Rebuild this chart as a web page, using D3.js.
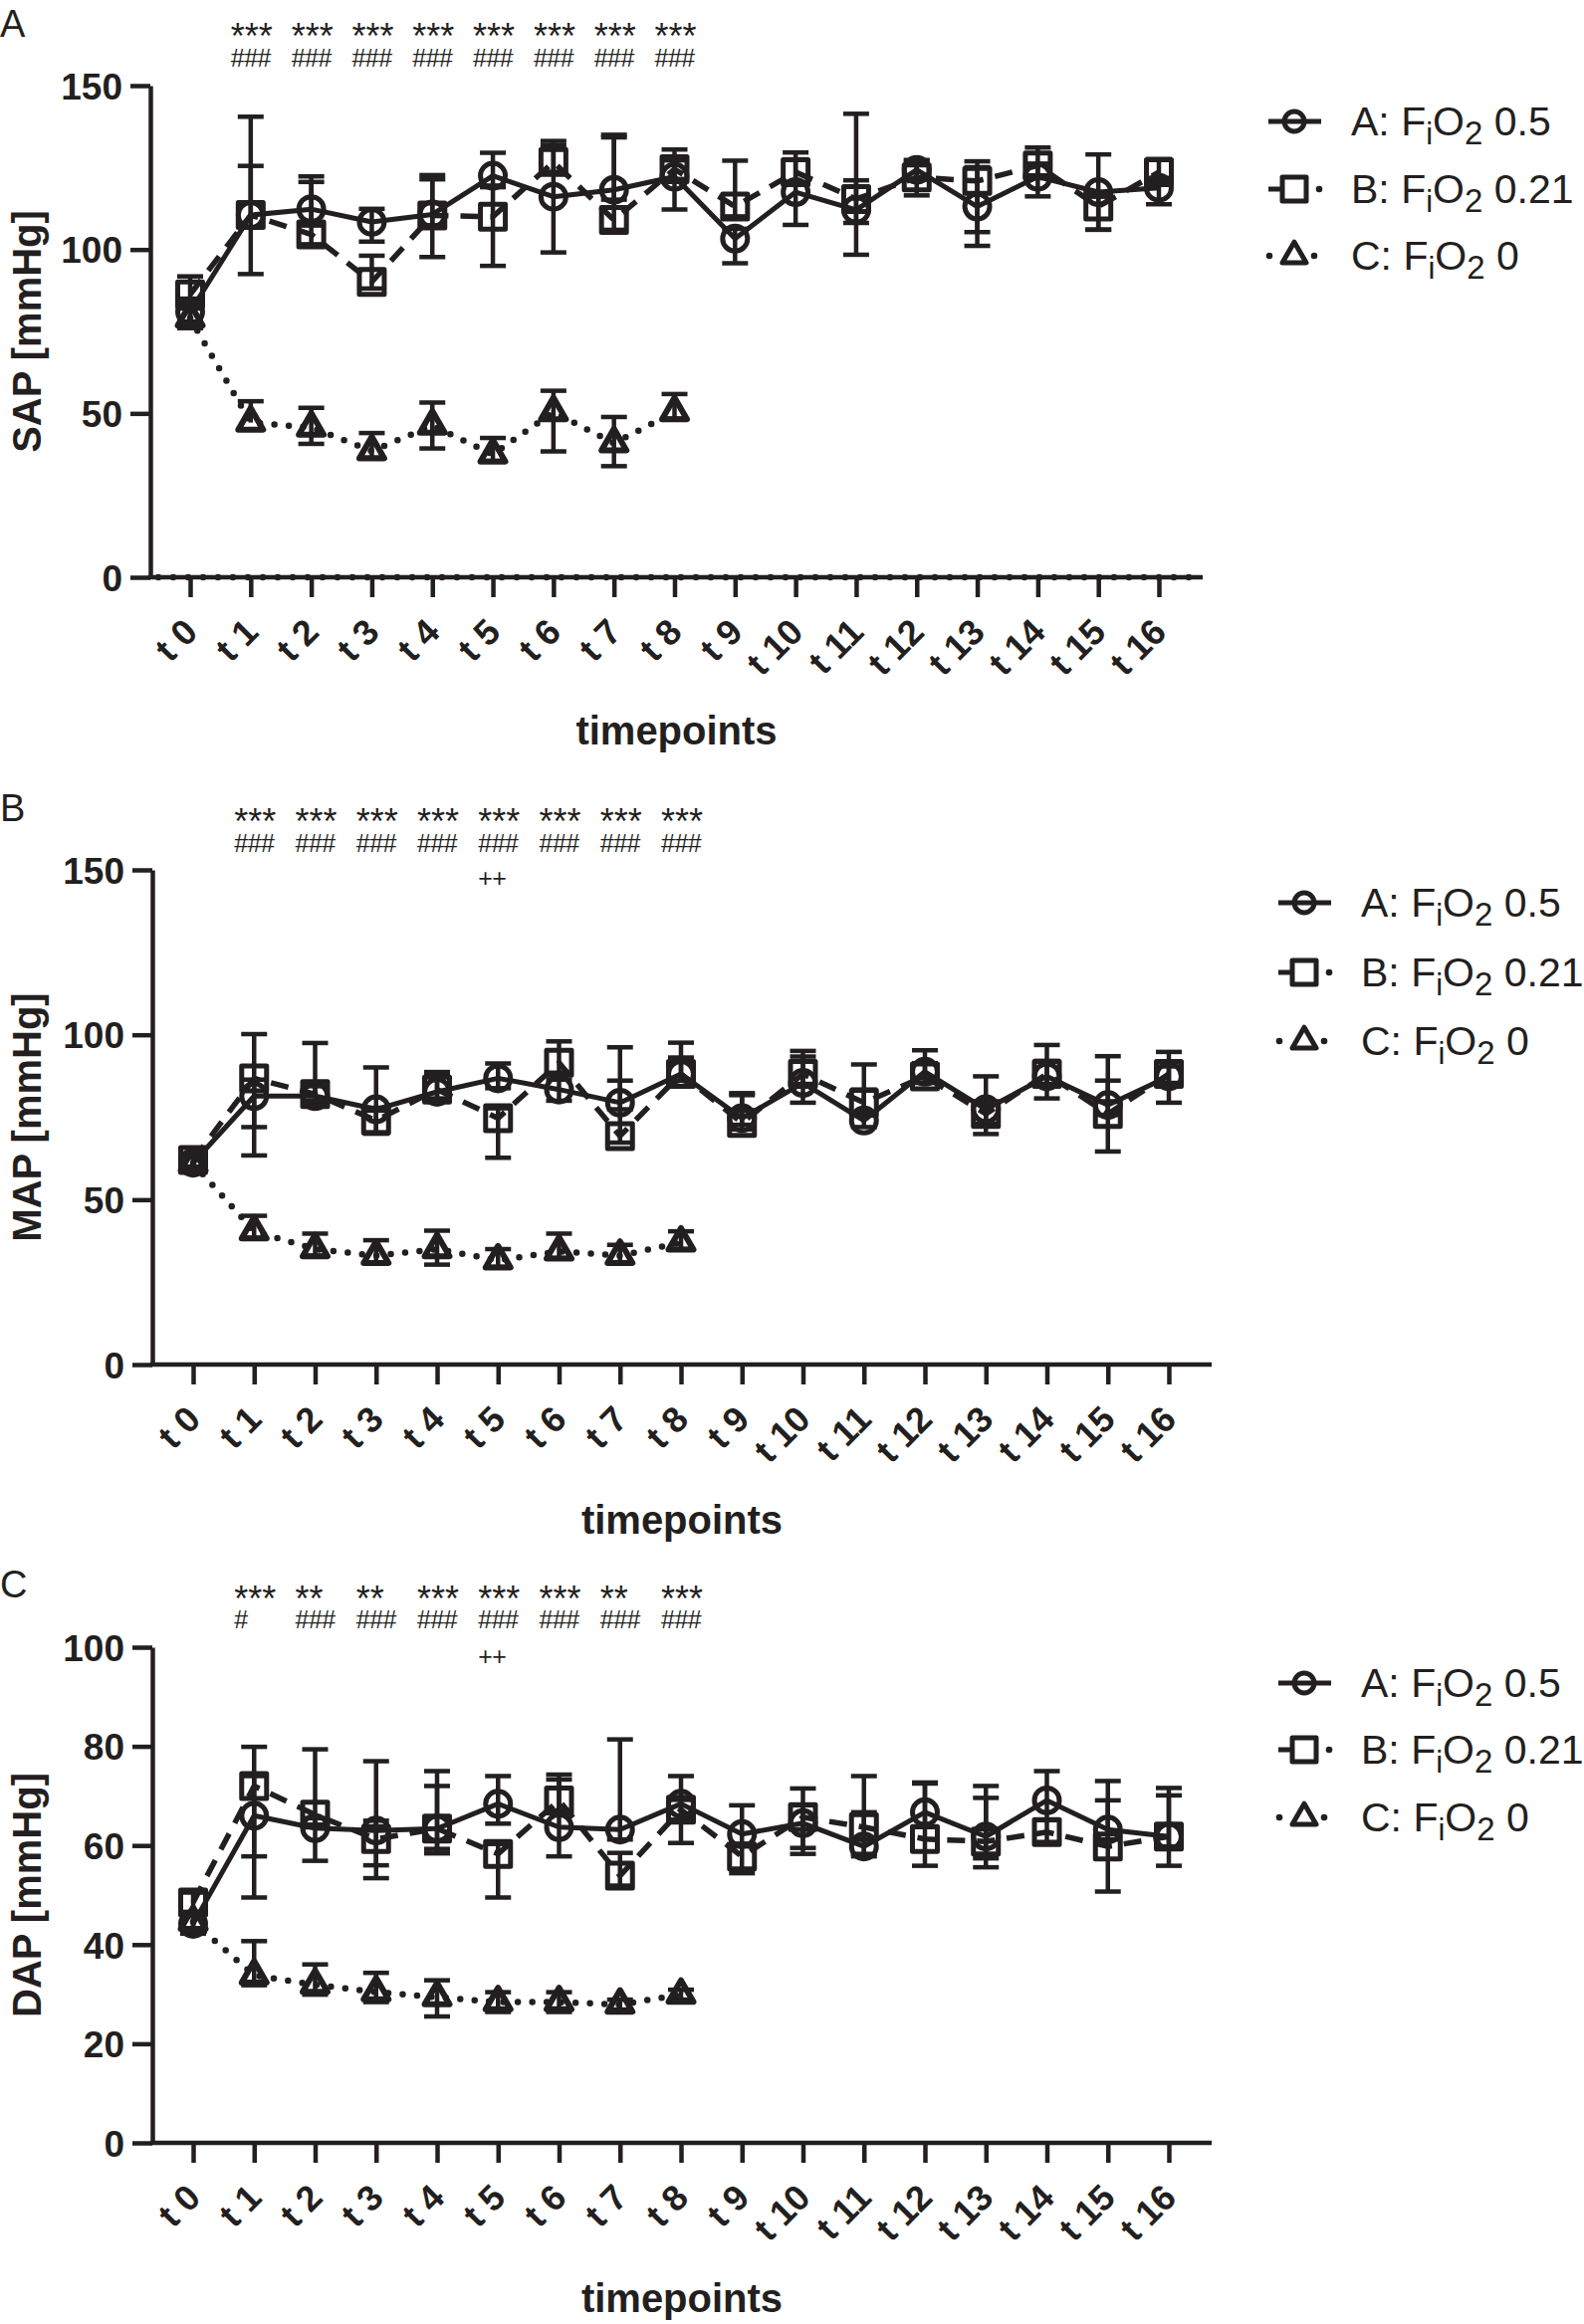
<!DOCTYPE html>
<html>
<head>
<meta charset="utf-8">
<script src="https://cdn.jsdelivr.net/npm/d3@7"></script>
<style>
  body { margin: 0; background: #fff; }
  svg { display: block; font-family: "Liberation Sans", Arial, sans-serif; }
</style>
</head>
<body>
<div id="chart"></div>
<script>
// timepoints on the x axis
const timepoints = d3.range(17).map(i => "t " + i);

// each entry: [mean, error below, error above]
const sapA = [[81,3,4],[110.5,18,30],[112.3,5,10],[108.4,6,4],[110.7,13,12],[122.5,3,7],[116.1,17,17],[118.2,3,16],[122.2,10,5],[103.3,7.5,3],[117.5,10,10],[112.1,4,9],[124.3,3,3],[113.1,12,12],[122.2,6,4],[117.5,11.5,11.5],[118.8,5,3]];
const sapB = [[86.3,3,5.5],[110.5,0,15],[104.6,3,16],[90.1,2,8],[110.4,3,11],[110,15,9],[126.7,3,5],[109,3,26],[124.5,3,6],[113.1,3,14],[123.6,3,6],[115.4,17,26],[122,5.5,5],[120.9,15.6,6],[125.6,3,5.5],[113.1,7,3],[123.6,3,4]];
const sapC = [[79,3,3],[47.2,0,6.5],[45.7,5,6],[38.5,2,5.5],[46.3,7,7],[37.5,2,5],[50.4,12,6.5],[40.9,7,8],[50.4,2,5.5]];

const mapA = [[61.2,2,2],[81.4,18,5],[81.4,2,3],[77.4,7,12.7],[82.7,2,6],[86.8,3,4.5],[83.4,3.4,3],[79.4,2,16.8],[88.1,2,9.5],[74.7,2,7],[85.4,6,8],[74,2,17],[88.8,2,6.5],[77.4,7.5,10],[87.4,6.7,9.5],[78.7,3,7.4],[87.4,2,3]];
const mapB = [[62,2,2],[86.8,14.8,13.4],[82,2,15.5],[74,4,3],[83.4,3,5],[74.7,12,3],[91.5,3,6.5],[69.3,2,16.8],[88.1,2,5],[73.3,2,9],[88.1,3,7],[79.4,3,4],[87.4,2,4],[76,3,3],[88.1,3,4],[76,11.4,17.5],[88.1,8.7,6.7]];
const mapC = [[61,2,2],[40.4,2,4.7],[35,2,4.7],[33,2,4.7],[35,4.7,5.6],[31.6,2,3.4],[34.3,2,5.4],[33,2,3.3],[37,2,3.4]];

const dapA = [[44.2,2,2],[66,8.2,13.9],[63.5,6.6,2],[63,7,2],[63.4,4.1,11.6],[68.4,4,5.6],[63.7,5.9,10.6],[63.2,2,18.2],[68.4,7.9,5.6],[62.3,2,5.8],[64.5,5,7],[59.8,2,6.9],[66.7,3,6],[61.8,4.4,10.2],[69.1,4,5.9],[63.2,2,9.8],[61.8,2,9.8]];
const dapB = [[48.5,2,2],[72,22.5,2],[66.2,2,13.2],[61.3,7.9,15.7],[63.4,5,8.6],[58.3,8.8,2],[69.1,2,4.2],[53.9,2,4.6],[67.2,2,2],[57.8,3.4,2],[65.7,7.4,2.4],[63.7,5.4,10.3],[61.3,5.4,11.2],[60.8,5.2,8.8],[62.7,2,2.5],[59.8,9.1,9.3],[61.8,5.9,8.3]];
const dapC = [[44.6,2,2],[33.8,2,6.9],[31.9,2,4.1],[30.4,2,3.9],[29.4,3.9,3.4],[28.4,2,2],[28.4,2,2],[27.9,1,1],[29.9,1,1]];

// significance marks, indexed by timepoint
const sapStars = ["","***","***","***","***","***","***","***","***"];
const sapHash  = ["","###","###","###","###","###","###","###","###"];
const mapStars = ["","***","***","***","***","***","***","***","***"];
const mapHash  = ["","###","###","###","###","###","###","###","###"];
const mapPlus  = ["","","","","","++","","",""];
const dapStars = ["","***","**","**","***","***","***","**","***"];
const dapHash  = ["","#","###","###","###","###","###","###","###"];
const dapPlus  = ["","","","","","++","","",""];

// legend
const groupNames = ["A", "B", "C"];
const fio2Values = ["0.5", "0.21", "0"];

const ink = "#231f20";
const font = "'Liberation Sans', Arial, sans-serif";

const styles = [
  {symbol: d3.symbolCircle, size: Math.PI * 12.5 * 12.5, dash: null, width: 5, cap: "butt"},
  {symbol: d3.symbolSquare, size: 25 * 25, dash: "18 12", width: 5.5, cap: "butt"},
  {symbol: d3.symbolTriangle, size: 25 * 25 * Math.sqrt(3) / 4, dash: "0 14.5", width: 6.5, cap: "round"}
];

const panels = [
  {id: "A", title: "SAP [mmHg]", series: [sapA, sapB, sapC], sig: [sapStars, sapHash],
   yMax: 150, yTicks: [0, 50, 100, 150], top: 86, bottom: 580, axisX: 151, x0: 191, x1: 1164, xEnd: 1208,
   labelY: 37, sigY: [49, 67], legX: 1300, legTextX: 1357, legY: [122, 190, 257], xTitleY: 748, zeroDots: true},
  {id: "B", title: "MAP [mmHg]", series: [mapA, mapB, mapC], sig: [mapStars, mapHash, mapPlus],
   yMax: 150, yTicks: [0, 50, 100, 150], top: 874, bottom: 1371, axisX: 153, x0: 194, x1: 1174, xEnd: 1217,
   labelY: 825, sigY: [838, 856, 891], legX: 1310, legTextX: 1367, legY: [907, 977, 1046], xTitleY: 1541, zeroDots: false},
  {id: "C", title: "DAP [mmHg]", series: [dapA, dapB, dapC], sig: [dapStars, dapHash, dapPlus],
   yMax: 100, yTicks: [0, 20, 40, 60, 80, 100], top: 1655, bottom: 2153, axisX: 153, x0: 194, x1: 1174, xEnd: 1217,
   labelY: 1605, sigY: [1619, 1636, 1673], legX: 1310, legTextX: 1367, legY: [1691, 1758, 1826], xTitleY: 2323, zeroDots: false}
];

const svg = d3.select("#chart").append("svg")
  .attr("width", 1591)
  .attr("height", 2335);

panels.forEach(p => drawPanel(p));

function drawPanel(p) {
  const g = svg.append("g");
  const y = d3.scaleLinear().domain([0, p.yMax]).range([p.bottom, p.top]);
  const x = d3.scalePoint().domain(timepoints).range([p.x0, p.x1]);

  // panel letter
  g.append("text")
    .attr("x", 0).attr("y", p.labelY)
    .attr("font-size", 38).attr("fill", ink)
    .text(p.id);

  // significance marks: one text per timepoint, one tspan per row
  const cols = d3.range(p.sig[0].length).filter(i => p.sig.some(r => r[i]));
  const sig = g.append("g").selectAll("text")
    .data(cols)
    .join("text")
    .attr("fill", ink);
  sig.each(function (i) {
    const t = d3.select(this);
    p.sig.forEach((row, r) => {
      if (!row[i]) return;
      const isStar = row[i].startsWith("*");
      t.append("tspan")
        .attr("x", x(timepoints[i]) - 20)
        .attr("y", p.sigY[r])
        .attr("font-size", isStar ? 36 : 25)
        .attr("letter-spacing", isStar ? 0 : -0.5)
        .text(row[i]);
    });
  });

  // y axis
  const ya = g.append("g")
    .attr("transform", `translate(${p.axisX},0)`)
    .call(d3.axisLeft(y).tickValues(p.yTicks).tickSize(20).tickSizeOuter(0).tickPadding(8));
  ya.select(".domain").attr("stroke", ink).attr("stroke-width", 4.5);
  ya.selectAll(".tick line").attr("stroke", ink).attr("stroke-width", 4.5);
  ya.selectAll(".tick text")
    .attr("fill", ink).attr("font-size", 37).attr("font-weight", "bold")
    .attr("font-family", font).attr("dy", "0.36em");

  // x axis
  const xa = g.append("g")
    .attr("transform", `translate(0,${p.bottom})`)
    .call(d3.axisBottom(x).tickSize(20).tickSizeOuter(0));
  xa.select(".domain").remove();
  xa.selectAll(".tick line").attr("stroke", ink).attr("stroke-width", 4.5);
  xa.selectAll(".tick text")
    .attr("y", 0).attr("dy", 0)
    .attr("text-anchor", "end")
    .attr("transform", "translate(9,57) rotate(-45)")
    .attr("fill", ink).attr("font-size", 36).attr("font-weight", "bold")
    .attr("font-family", font);
  g.append("line")
    .attr("x1", p.axisX - 2.25).attr("x2", p.xEnd)
    .attr("y1", p.bottom).attr("y2", p.bottom)
    .attr("stroke", ink).attr("stroke-width", 4.5);

  if (p.zeroDots) {
    g.append("line")
      .attr("x1", p.axisX + 8).attr("x2", p.xEnd)
      .attr("y1", p.bottom).attr("y2", p.bottom)
      .attr("stroke", ink).attr("stroke-width", 6.5)
      .attr("stroke-linecap", "round").attr("stroke-dasharray", "0 15");
  }

  // axis titles
  g.append("text")
    .attr("transform", `translate(41,${(p.top + p.bottom) / 2}) rotate(-90)`)
    .attr("text-anchor", "middle")
    .attr("font-size", 40).attr("font-weight", "bold").attr("fill", ink)
    .text(p.title);
  g.append("text")
    .attr("x", (p.axisX + p.xEnd) / 2).attr("y", p.xTitleY)
    .attr("text-anchor", "middle")
    .attr("font-size", 40).attr("font-weight", "bold").attr("fill", ink)
    .text("timepoints");

  const line = d3.line()
    .x((d, i) => x(timepoints[i]))
    .y(d => y(d[0]));

  // connecting lines
  p.series.forEach((s, k) => {
    const st = styles[k];
    g.append("path")
      .datum(s)
      .attr("d", line)
      .attr("fill", "none")
      .attr("stroke", ink)
      .attr("stroke-width", st.width)
      .attr("stroke-linecap", st.cap)
      .attr("stroke-linejoin", "round")
      .attr("stroke-dasharray", st.dash);
  });

  // error bars
  p.series.forEach(s => {
    const eb = g.append("g").selectAll("g")
      .data(s)
      .join("g")
      .attr("transform", (d, i) => `translate(${x(timepoints[i])},0)`);
    eb.append("line")
      .attr("y1", d => y(d[0] - d[1])).attr("y2", d => y(d[0] + d[2]))
      .attr("stroke", ink).attr("stroke-width", 4.5);
    eb.filter(d => d[2] > 0).append("line")
      .attr("x1", -13).attr("x2", 13)
      .attr("y1", d => y(d[0] + d[2])).attr("y2", d => y(d[0] + d[2]))
      .attr("stroke", ink).attr("stroke-width", 4.5);
    eb.filter(d => d[1] > 0).append("line")
      .attr("x1", -13).attr("x2", 13)
      .attr("y1", d => y(d[0] - d[1])).attr("y2", d => y(d[0] - d[1]))
      .attr("stroke", ink).attr("stroke-width", 4.5);
  });

  // markers
  p.series.forEach((s, k) => {
    const st = styles[k];
    g.append("g").selectAll("path")
      .data(s)
      .join("path")
      .attr("d", d3.symbol(st.symbol, st.size))
      .attr("transform", (d, i) => `translate(${x(timepoints[i])},${y(d[0])})`)
      .attr("fill", "none")
      .attr("stroke", ink)
      .attr("stroke-width", k === 2 ? 6 : 5)
      .attr("stroke-linejoin", "round");
  });

  // legend
  groupNames.forEach((name, k) => {
    const st = styles[k];
    const ly = p.legY[k];
    const lg = g.append("g");
    if (k === 0) {
      lg.append("line").attr("x1", p.legX - 26).attr("x2", p.legX + 27)
        .attr("y1", ly).attr("y2", ly).attr("stroke", ink).attr("stroke-width", 5);
    } else if (k === 1) {
      lg.append("line").attr("x1", p.legX - 26).attr("x2", p.legX - 10)
        .attr("y1", ly).attr("y2", ly).attr("stroke", ink).attr("stroke-width", 5);
      lg.append("circle").attr("cx", p.legX + 25).attr("cy", ly).attr("r", 3.3).attr("fill", ink);
    } else {
      lg.append("circle").attr("cx", p.legX - 25).attr("cy", ly).attr("r", 3.3).attr("fill", ink);
      lg.append("circle").attr("cx", p.legX + 20).attr("cy", ly).attr("r", 3.3).attr("fill", ink);
    }
    const legSize = k === 0 ? Math.PI * 10 * 10 : (k === 1 ? 24 * 24 : 24 * 24 * Math.sqrt(3) / 4);
    lg.append("path")
      .attr("d", d3.symbol(st.symbol, legSize))
      .attr("transform", `translate(${p.legX},${ly})`)
      .attr("fill", k === 0 ? "none" : "#fff")
      .attr("stroke", ink).attr("stroke-width", 5).attr("stroke-linejoin", "round");

    const t = lg.append("text")
      .attr("x", p.legTextX).attr("y", ly + 14)
      .attr("font-size", 41).attr("fill", ink);
    t.append("tspan").text(name + ": F");
    t.append("tspan").attr("dy", 9).attr("font-size", 31).text("i");
    t.append("tspan").attr("dy", -9).text("O");
    t.append("tspan").attr("dy", 9).attr("font-size", 33).text("2");
    t.append("tspan").attr("dy", -9).text(" " + fio2Values[k]);
  });
}
</script>
</body>
</html>
